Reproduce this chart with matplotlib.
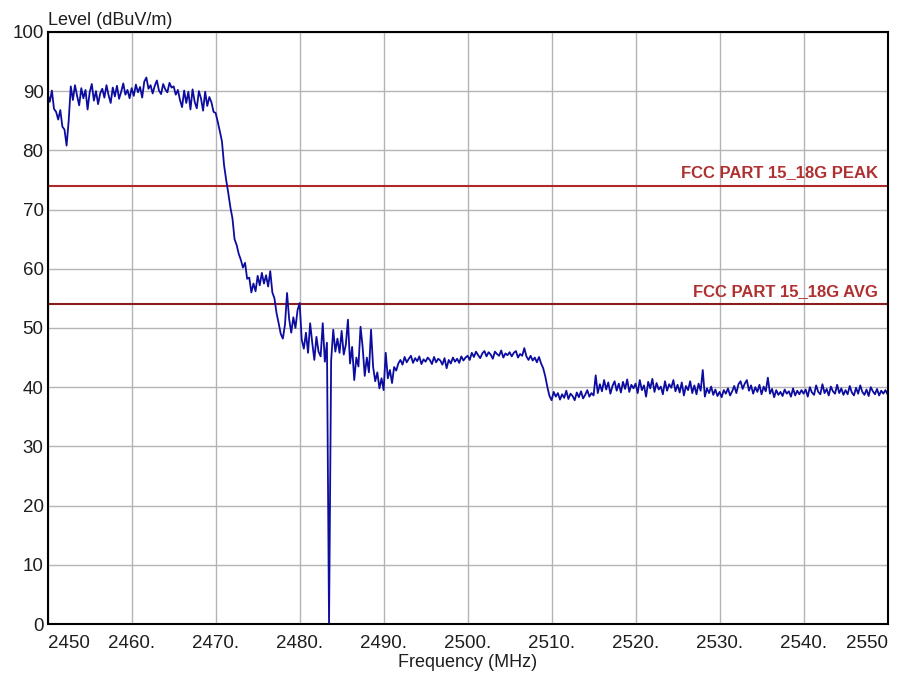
import numpy as np
import matplotlib
matplotlib.use("Agg")
import matplotlib.pyplot as plt

plt.rcParams['font.family'] = ['Liberation Sans', 'DejaVu Sans']

# sweep 2450 - 2550 MHz, 0.25 MHz step
f_start = 2450.0
f_stop = 2550.0
level = [
    89.5, 88.2, 90.1, 87.0, 86.5, 85.2, 86.8, 84.0, 83.5, 80.8, 85.0, 90.8, 88.5, 91.0, 89.2, 87.6, 90.5, 88.8, 90.2, 86.9,
    89.8, 91.2, 88.4, 90.0, 87.8, 89.6, 90.4, 88.9, 91.0, 89.3, 88.0, 90.6, 89.1, 90.9, 88.7, 89.9, 91.3, 89.4, 90.2, 88.8,
    90.5, 89.2, 91.1, 89.8, 90.7, 88.9, 91.6, 92.3, 90.4, 91.0, 89.6, 90.9, 91.8, 90.1, 89.5, 91.2, 90.3, 89.8, 91.4, 90.6,
    90.8, 89.4, 90.2, 88.5, 87.3, 90.1, 88.0, 89.9, 86.9, 90.3, 88.2, 87.1, 90.0, 88.8, 86.7, 89.9, 87.5, 89.0, 88.1, 86.5,
    86.3, 84.8, 83.2, 81.5, 77.5, 75.0, 72.8, 70.4, 68.5, 65.0, 64.0, 62.5, 61.5, 60.2, 61.0, 58.3, 58.5, 56.0, 57.5, 56.2,
    58.8, 57.2, 59.3, 57.5, 58.9, 57.0, 59.6, 56.0, 55.0, 52.5, 50.8, 49.0, 48.2, 50.5, 55.9, 51.5, 49.2, 51.8, 50.0, 53.0,
    54.2, 48.0, 46.5, 49.2, 45.8, 50.8, 47.5, 44.6, 48.5, 46.0, 45.2, 50.8, 44.3, 47.5, 0.0, 44.5, 49.7, 46.0, 48.2, 45.8,
    49.5, 45.5, 47.2, 51.4, 44.0, 46.8, 41.2, 45.0, 43.5, 50.2, 46.8, 41.9, 45.0, 42.5, 49.7, 43.4, 41.0, 42.5, 39.8, 41.5,
    39.5, 45.8, 41.5, 42.9, 40.7, 43.4, 42.8, 44.0, 44.6, 43.8, 45.1, 44.2, 44.8, 45.3, 44.1, 44.9, 44.4, 45.2, 43.9, 44.7,
    44.3, 45.0, 44.6, 43.9, 45.1, 44.2, 44.8, 44.5, 43.8, 44.9, 43.2, 44.6, 44.0, 45.0, 44.3, 44.8, 44.1, 45.2, 44.5, 45.0,
    45.3, 44.6, 45.8, 45.1, 46.0, 45.4, 44.9, 45.7, 46.1, 45.2, 45.9, 45.5, 44.8, 46.0, 45.6, 45.3, 46.2, 45.0, 45.7, 45.4,
    45.9, 45.2, 45.8, 46.1, 45.0, 45.6, 45.3, 46.6, 45.2, 44.6, 45.3, 44.5, 45.0, 44.2, 45.1, 44.0, 43.2, 41.8, 40.0, 38.5,
    37.8, 39.2, 38.4, 39.0, 37.9, 38.8, 38.2, 39.4, 38.0, 38.9, 38.5, 37.8, 39.1, 38.3, 39.3, 38.1, 38.7, 39.5, 38.4, 39.0,
    38.6, 42.0, 39.0, 40.5, 39.3, 41.2, 39.6, 40.8, 38.9, 40.2, 41.0, 39.4, 40.6, 39.1, 40.9, 39.7, 41.3, 39.2, 40.4, 39.8,
    40.6, 39.0, 41.2, 39.5, 40.3, 38.4, 40.9, 39.8, 41.4, 39.2, 40.7, 39.6, 40.1, 38.8, 41.0, 39.4, 40.5, 39.9, 41.2, 39.3,
    40.4, 39.1, 40.8, 38.6, 40.2, 39.5, 41.0, 39.0, 40.3, 38.8, 40.6, 39.4, 42.9, 38.4, 39.8, 39.0, 40.1, 38.7, 39.6, 38.5,
    39.2, 38.3, 39.5, 38.9, 39.8, 38.6, 39.3, 40.2, 39.0, 40.5, 41.0, 39.7, 40.6, 41.2, 39.4, 40.3, 38.9, 40.0, 39.2, 40.4,
    38.8, 40.1, 39.3, 41.6, 38.9, 39.7, 38.3, 39.5, 38.7, 39.2, 38.5, 39.6, 38.9, 39.3, 38.4, 39.8, 38.6, 39.4, 38.8, 39.5,
    38.9, 39.6, 38.4, 40.0, 39.1, 38.7, 40.3, 39.2, 38.8, 40.5, 39.0, 39.7, 38.6, 40.1, 39.3, 38.9, 40.4, 39.0, 39.8, 38.7,
    39.5, 38.8, 40.2, 39.1, 38.6, 39.9, 38.9, 40.3, 39.2, 38.7, 39.6, 38.5, 40.0, 39.3, 38.8, 39.7, 38.6, 39.4, 38.9, 39.5,
    38.8,
]
freq = np.linspace(f_start, f_stop, len(level))

# limit lines
peak_limit = 74
avg_limit = 54
peak_label = "FCC PART 15_18G PEAK"
avg_label = "FCC PART 15_18G AVG"

x_ticks = [2450, 2460, 2470, 2480, 2490, 2500, 2510, 2520, 2530, 2540, 2550]
x_ticklabels = ["2450", "2460.", "2470.", "2480.", "2490.", "2500.", "2510.", "2520.", "2530.", "2540.", "2550"]
y_ticks = [0, 10, 20, 30, 40, 50, 60, 70, 80, 90, 100]

fig = plt.figure(figsize=(9.05, 6.79), dpi=100)
ax = fig.add_axes([0.0527, 0.081, 0.928, 0.872])

ax.set_xlim(f_start, f_stop)
ax.set_ylim(0, 100)
ax.set_xticks(x_ticks)
ax.set_xticklabels(x_ticklabels)
ax.set_yticks(y_ticks)
ax.tick_params(length=0, labelsize=13.5, labelcolor="#1e1e1e")
ax.tick_params(axis="x", pad=8)
ax.tick_params(axis="y", pad=3)
lbls = ax.get_xticklabels()
lbls[0].set_ha("left")
lbls[-1].set_ha("right")

ax.grid(True, color="#b4b4b4", lw=1.0)
ax.set_axisbelow(True)
for s in ax.spines.values():
    s.set_linewidth(1.5)
    s.set_color("black")

ax.axhline(peak_limit, color="#b02828", lw=1.5)
ax.axhline(avg_limit, color="#8a1e1e", lw=1.5)
ax.text(0.989, peak_limit + 0.9, peak_label, transform=ax.get_yaxis_transform(),
        ha="right", va="bottom", color="#b03030", fontsize=12, fontweight="bold")
ax.text(0.989, avg_limit + 0.9, avg_label, transform=ax.get_yaxis_transform(),
        ha="right", va="bottom", color="#b03030", fontsize=12, fontweight="bold")

ax.plot(freq, level, color="#0c0ca0", lw=1.3)

fig.text(0.053, 0.97, "Level (dBuV/m)", ha="left", va="center", fontsize=13, color="#1e1e1e")
ax.set_xlabel("Frequency (MHz)", fontsize=13, color="#1e1e1e", labelpad=1)

fig.savefig("out.png", dpi=100)
